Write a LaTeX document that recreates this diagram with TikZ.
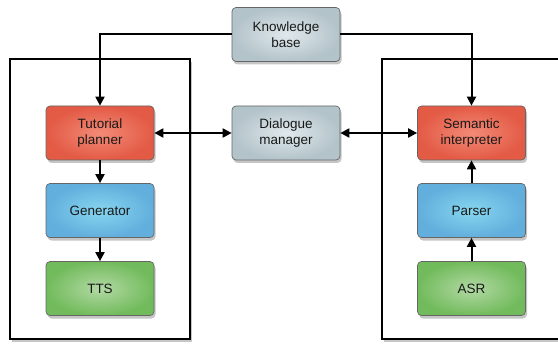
\documentclass[tikz,border=0pt]{standalone}
\usepackage{fontspec}
\setmainfont{Liberation Sans}
\usetikzlibrary{shadows,arrows.meta}
\definecolor{redA}{HTML}{E35A45}
\definecolor{redB}{HTML}{F28B77}
\definecolor{bluA}{HTML}{62AEDD}
\definecolor{bluB}{HTML}{86D6EF}
\definecolor{grnA}{HTML}{72BB5C}
\definecolor{grnB}{HTML}{B2D9A4}
\definecolor{gryA}{HTML}{B3C3CA}
\definecolor{gryB}{HTML}{E0E9EC}
\tikzset{
  mod/.style={draw=black!60, line width=0.7pt, rounded corners=4pt, minimum width=108pt, minimum height=54pt,
    align=center, font=\fontsize{13.5}{16.5}\selectfont, text=black!90,
    drop shadow={shadow xshift=1.5pt, shadow yshift=-3pt, opacity=0.45}},
  redbox/.style={mod, shading=radial, inner color=redB, outer color=redA},
  blubox/.style={mod, shading=radial, inner color=bluB, outer color=bluA},
  grnbox/.style={mod, shading=radial, inner color=grnB, outer color=grnA},
  grybox/.style={mod, shading=radial, inner color=gryB, outer color=gryA},
  frame/.style={draw=black, line width=1.3pt, fill=white,
    drop shadow={shadow xshift=1.5pt, shadow yshift=-3pt, opacity=0.45}},
  conn/.style={line width=2pt, -{Triangle[length=9pt,width=9pt]}},
  bconn/.style={line width=2pt, {Triangle[length=9pt,width=9pt]}-{Triangle[length=9pt,width=9pt]}},
}
\begin{document}
\begin{tikzpicture}[x=1pt,y=-1pt]
\useasboundingbox (0,0) rectangle (558,345);
\path[frame] (10,59) rectangle (190,339);
\path[frame] (382,59) rectangle (575,339);
\node[grybox] (kb) at (286,34.5) {Knowledge\\base};
\node[grybox] (dm) at (286,133) {Dialogue\\manager};
\node[redbox] (tp) at (100,133) {Tutorial\\planner};
\node[blubox] (gen) at (100,210.5) {Generator};
\node[grnbox] (tts) at (100,288.5) {TTS};
\node[redbox] (si) at (471.5,133) {Semantic\\interpreter};
\node[blubox] (par) at (471.5,210.5) {Parser};
\node[grnbox] (asr) at (471.5,288.5) {ASR};
\draw[conn] (kb.west) -| (tp.north);
\draw[conn] (kb.east) -| (si.north);
\draw[bconn] (tp.east) -- (dm.west);
\draw[bconn] (dm.east) -- (si.west);
\draw[conn] (tp) -- (gen);
\draw[conn] (gen) -- (tts);
\draw[conn] (asr) -- (par);
\draw[conn] (par) -- (si);
\end{tikzpicture}
\end{document}
